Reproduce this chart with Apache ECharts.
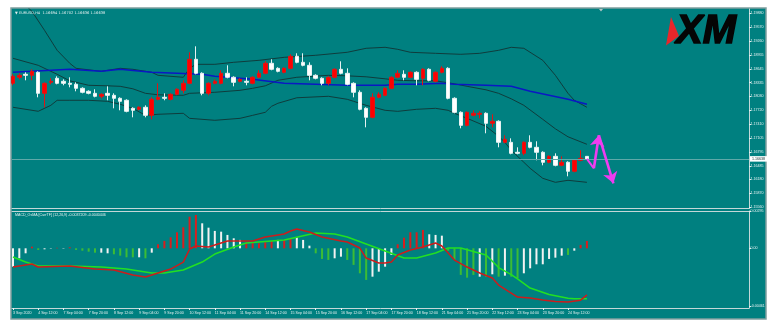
<!DOCTYPE html>
<html>
<head>
<meta charset="utf-8">
<script src="https://cdn.jsdelivr.net/npm/echarts@6/dist/echarts.min.js"></script>
<style>
html,body{margin:0;padding:0;background:#ffffff;}
#c{width:784px;height:331px;}
</style>
</head>
<body>
<div id="c"></div>
<script>
// EURUSD H4 candles, 3 Sep 20:00 .. 25 Sep 00:00 (bar index 0..91)
const open = [1.18321,1.18455,1.18522,1.18499,1.18566,1.18098,1.18343,1.18433,1.18366,1.18321,
1.18299,1.18210,1.18143,1.18098,1.18032,1.18098,1.18054,1.17987,1.17943,1.17764,
1.17742,1.17787,1.17608,1.17965,1.18009,1.17965,1.18076,1.18165,1.18321,1.18856,
1.18544,1.18098,1.18321,1.18321,1.18544,1.18455,1.18366,1.18366,1.18321,1.18455,
1.18544,1.18767,1.18655,1.18566,1.18655,1.18923,1.18789,1.18722,1.18499,1.18433,
1.18321,1.18455,1.18633,1.18544,1.18321,1.18121,1.17764,1.17564,1.18009,1.18054,
1.18210,1.18455,1.18522,1.18455,1.18566,1.18433,1.18633,1.18366,1.18566,1.18655,
1.17987,1.17675,1.17385,1.17608,1.17631,1.17653,1.17430,1.17475,1.17007,1.17007,
1.16785,1.16762,1.17007,1.16896,1.16785,1.16562,1.16695,1.16495,1.16562,1.16362,
1.16606,1.16694];
const close = [1.18477,1.18499,1.18499,1.18588,1.18098,1.18321,1.18366,1.18321,1.18321,1.18299,
1.18210,1.18121,1.18098,1.18032,1.18076,1.18054,1.17987,1.17920,1.17697,1.17720,
1.17787,1.17608,1.17965,1.18009,1.17987,1.18076,1.18188,1.18321,1.18856,1.18544,
1.18098,1.18321,1.18366,1.18544,1.18455,1.18343,1.18410,1.18343,1.18455,1.18544,
1.18767,1.18633,1.18588,1.18655,1.18923,1.18789,1.18722,1.18499,1.18433,1.18321,
1.18455,1.18633,1.18544,1.18299,1.18121,1.17742,1.17564,1.18009,1.18076,1.18210,
1.18455,1.18544,1.18455,1.18566,1.18410,1.18633,1.18388,1.18566,1.18655,1.17987,
1.17675,1.17385,1.17675,1.17653,1.17653,1.17430,1.17475,1.17007,1.17074,1.16762,
1.16762,1.17007,1.16896,1.16785,1.16562,1.16695,1.16495,1.16562,1.16362,1.16606,
1.16651,1.16638];
const low = [1.18277,1.18410,1.18388,1.18388,1.18009,1.17787,1.18299,1.18299,1.18277,1.18232,
1.18143,1.18098,1.18076,1.18009,1.17987,1.17943,1.17764,1.17720,1.17675,1.17564,
1.17720,1.17564,1.17519,1.17943,1.17943,1.17943,1.18054,1.18098,1.18299,1.18522,
1.18054,1.18054,1.18299,1.18299,1.18433,1.18254,1.18343,1.18277,1.18299,1.18433,
1.18522,1.18611,1.18566,1.18544,1.18633,1.18767,1.18700,1.18388,1.18410,1.18277,
1.18277,1.18433,1.18522,1.18277,1.18009,1.17720,1.17341,1.17541,1.17987,1.18032,
1.18188,1.18433,1.18388,1.18433,1.18277,1.18277,1.18366,1.18343,1.18544,1.17965,
1.17653,1.17319,1.17363,1.17586,1.17541,1.17208,1.17341,1.16896,1.16985,1.16740,
1.16740,1.16718,1.16874,1.16606,1.16495,1.16540,1.16473,1.16473,1.16250,1.16339,
1.16584,1.16636];
const high = [1.18522,1.18544,1.18566,1.18633,1.18588,1.18343,1.18433,1.18477,1.18410,1.18455,
1.18343,1.18232,1.18165,1.18188,1.18098,1.18254,1.18098,1.18009,1.17965,1.17787,
1.17809,1.17831,1.18009,1.18321,1.18098,1.18098,1.18210,1.18388,1.19012,1.19145,
1.18566,1.18343,1.18410,1.18611,1.18722,1.18477,1.18433,1.18455,1.18477,1.18611,
1.18811,1.18856,1.18678,1.18678,1.18967,1.18990,1.18990,1.18789,1.18522,1.18455,
1.18477,1.18655,1.18811,1.18655,1.18343,1.18165,1.17787,1.18098,1.18121,1.18232,
1.18477,1.18611,1.18611,1.18588,1.18588,1.18655,1.18655,1.18588,1.18700,1.18678,
1.18009,1.17697,1.17697,1.17720,1.17697,1.17675,1.17631,1.17497,1.17163,1.17096,
1.16896,1.17030,1.17163,1.17030,1.16807,1.16718,1.16762,1.16695,1.16584,1.16629,
1.16829,1.16702];

// Bollinger bands (upper / middle / lower) sampled at bar indices
const bandUpIdx  = [0,2,3,5,7,9,10,14,17,19,22,23,27,28,29,32,35,39,43,48,53,56,59,61,63,67,71,74,77,79,81,84,86,88,89,91];
const bandUpVal  = [1.20281,1.20058,1.19925,1.19501,1.19056,1.18767,1.18655,1.18588,1.18655,1.18633,
1.18566,1.18499,1.18455,1.18655,1.18744,1.18744,1.18789,1.18833,1.18900,1.18945,
1.19012,1.19101,1.19123,1.19078,1.19012,1.18989,1.18967,1.18989,1.19056,1.19123,
1.19101,1.18833,1.18499,1.18098,1.17943,1.17787];
const bandMidIdx = [0,4,7,9,12,15,17,19,21,23,27,28,32,36,38,40,42,45,50,53,56,59,61,64,67,70,72,75,77,79,81,84,86,88,91];
const bandMidVal = [1.18878,1.18722,1.18522,1.18377,1.18277,1.18265,1.18254,1.18199,1.18098,1.18065,
1.18054,1.18098,1.18121,1.18165,1.18210,1.18265,1.18388,1.18455,1.18499,1.18488,
1.18466,1.18421,1.18388,1.18377,1.18377,1.18310,1.18254,1.18176,1.18098,1.17976,
1.17831,1.17519,1.17308,1.17130,1.16963];
const bandLowIdx = [0,4,6,7,9,12,15,17,19,21,23,27,28,32,36,38,40,41,42,45,50,53,54,56,59,61,64,67,69,70,72,75,77,78,79,81,82,84,86,88,91];
const bandLowVal = [1.17787,1.17698,1.17831,1.17943,1.17943,1.17943,1.17920,1.17854,1.17764,1.17608,
1.17631,1.17653,1.17541,1.17497,1.17541,1.17608,1.17675,1.17809,1.17876,1.17999,
1.18032,1.17965,1.17920,1.17831,1.17720,1.17697,1.17742,1.17764,1.17720,1.17653,
1.17541,1.17363,1.17141,1.17007,1.16829,1.16562,1.16428,1.16205,1.16116,1.16161,
1.16116];

// slow moving average (blue)
const maIdx = [0,3,9,14,17,22,26,30,32,38,43,48,53,59,61,64,68,70,75,79,82,88,91];
const maVal = [1.18566,1.18588,1.18633,1.18588,1.18633,1.18566,1.18544,1.18522,1.18477,1.18410,
1.18321,1.18299,1.18277,1.18277,1.18299,1.18299,1.18321,1.18299,1.18277,1.18254,
1.18143,1.17965,1.17854];

// projected path drawn after the last bar
const pathIdx = [91, 92.1, 92.9, 95.2];
const pathPrice = [1.16638, 1.16428, 1.17163, 1.16094];

// MACD OsMA histogram, one value per bar; colour codes r / w / g
const osma = [-0.00147,-0.00080,-0.00040,0.00013,-0.00013,-0.00008,-0.00003,0.00004,-0.00003,0.00008,
-0.00013,-0.00019,-0.00027,-0.00035,-0.00035,-0.00040,-0.00048,-0.00059,-0.00072,-0.00072,
-0.00072,-0.00080,-0.00035,0.00032,0.00059,0.00088,0.00128,0.00168,0.00253,0.00267,
0.00200,0.00165,0.00139,0.00133,0.00107,0.00080,0.00067,0.00048,0.00048,0.00040,
0.00048,0.00059,0.00067,0.00067,0.00080,0.00088,0.00067,0.00021,-0.00040,-0.00085,
-0.00093,-0.00080,-0.00067,-0.00093,-0.00133,-0.00200,-0.00253,-0.00227,-0.00187,-0.00147,
-0.00053,0.00032,0.00085,0.00128,0.00128,0.00147,0.00112,0.00107,0.00101,-0.00019,
-0.00093,-0.00213,-0.00235,-0.00213,-0.00227,-0.00227,-0.00208,-0.00227,-0.00219,-0.00227,
-0.00240,-0.00200,-0.00160,-0.00128,-0.00128,-0.00085,-0.00075,-0.00059,-0.00053,-0.00019,
0.00027,0.00059];
const osmaColor = "wwwrgwwrwr" + "ggggwwgggg" + "wgwrrrrrrr" + "wwwwwwwrrr" + "rrwrrwwwgg" +
                  "gwwggggwww" + "wrrrrrwwwg" + "ggggwgwgwg" + "gwwwwwwwgw" + "rr";

// MACD main line and signal line
const macdIdx = [0,3,4,9,13,16,19,21,23,25,27,28,29,31,32,34,36,38,40,43,44,45,47,49,52,53,55,56,58,59,60,61,63,65,67,68,70,72,74,76,77,79,80,82,84,86,88,90,91];
const macdVal = [-0.00150,-0.00126,-0.00150,-0.00142,-0.00166,-0.00174,-0.00214,-0.00230,-0.00198,-0.00166,
-0.00110,-0.00006,0.00018,0.00010,0.00026,0.00058,0.00058,0.00058,0.00090,0.00114,
0.00138,0.00154,0.00130,0.00090,0.00058,0.00050,0.00002,-0.00078,-0.00118,-0.00118,
-0.00110,-0.00054,-0.00014,0.00010,0.00042,0.00018,-0.00094,-0.00150,-0.00198,-0.00238,
-0.00294,-0.00358,-0.00390,-0.00398,-0.00414,-0.00425,-0.00430,-0.00415,-0.0037209];
const signalIdx = [0,2,4,9,14,18,22,24,27,30,32,35,37,39,43,48,51,53,56,59,62,64,67,69,71,75,77,79,80,82,85,88,89,91];
const signalVal = [-0.00070,-0.00110,-0.00142,-0.00142,-0.00150,-0.00166,-0.00198,-0.00198,-0.00174,-0.00110,
-0.00046,0.00010,0.00042,0.00050,0.00066,0.00122,0.00114,0.00090,0.00034,-0.00022,
-0.00078,-0.00078,-0.00038,0.00002,0.00002,-0.00054,-0.00154,-0.00210,-0.00245,-0.00318,
-0.00370,-0.00400,-0.00404,-0.0040446];

// axis tick labels
const priceTicks = ['1.19880','1.19570','1.19260','1.18955','1.18645','1.18335','1.18030','1.17720',
                    '1.17410','1.17105','1.16795','1.16485','1.16180','1.15870','1.15560'];
const macdTicks = ['0.00295','0.00','-0.00461'];
const timeTicks = ['3 Sep 2020','4 Sep 12:00','7 Sep 04:00','7 Sep 20:00','8 Sep 12:00','9 Sep 04:00',
  '9 Sep 20:00','10 Sep 12:00','11 Sep 04:00','11 Sep 20:00','14 Sep 12:00','15 Sep 04:00',
  '15 Sep 20:00','16 Sep 12:00','17 Sep 04:00','17 Sep 20:00','18 Sep 12:00','21 Sep 04:00',
  '21 Sep 20:00','22 Sep 12:00','23 Sep 04:00','23 Sep 20:00','24 Sep 12:00'];
const BARS_PER_TICK = 4;

// ---- styling ----
const BG = '#008080';
const FG = '#e4f0f0';
const FRAME = '#c4d8d8';
const BAND = '#0f3c3c';
const FONT = 'Liberation Sans';
const TXT = 3.6;

const X_MIN = -0.1586, X_MAX = 116.70;

const pairs = (xs, ys) => xs.map((x, k) => [x, ys[k]]);
const last = open.length - 1;

const candles = open.map((o, i) => [i, o, close[i], low[i], high[i]]);
const histColors = { r: '#d81e1e', w: '#f2f2f2', g: '#3cbc34' };
const hist = osma.map((v, i) => ({ value: [i, v], itemStyle: { color: histColors[osmaColor[i]] } }));

const pathSegments = [];
for (let k = 0; k + 1 < pathIdx.length; k++) {
  pathSegments.push({
    coords: [[pathIdx[k], pathPrice[k]], [pathIdx[k + 1], pathPrice[k + 1]]],
    symbol: k === 0 ? ['none', 'none'] : ['none', 'arrow'],
    lineStyle: k === 0 ? { width: 2 } : {}
  });
}

function xAxisOf(grid, extra) {
  return Object.assign({
    type: 'value', gridIndex: grid, min: X_MIN, max: X_MAX,
    splitLine: { show: false },
    axisLabel: { show: false },
    axisTick: { show: false },
    axisLine: { show: true, onZero: false, lineStyle: { color: FRAME, width: 1 } }
  }, extra || {});
}

const tickIdx = timeTicks.map((_, k) => k * BARS_PER_TICK);
const priceVals = priceTicks.map(Number);
const macdVals = macdTicks.map(Number);

const option = {
  backgroundColor: '#ffffff',
  animation: false,
  textStyle: { fontFamily: FONT },
  grid: [
    { left: 12, right: 35, top: 9, height: 199.5 },
    { left: 12, right: 35, top: 211, height: 97 }
  ],
  xAxis: [
    xAxisOf(0),
    xAxisOf(1, {
      axisTick: { show: true, customValues: tickIdx, length: 2, lineStyle: { color: FG } },
      axisLabel: {
        show: true, customValues: tickIdx, align: 'left', margin: 2.5,
        color: FG, fontSize: TXT, fontFamily: FONT,
        formatter: v => timeTicks[Math.round(v / BARS_PER_TICK)]
      }
    }),
    xAxisOf(1, { position: 'top' })
  ],
  yAxis: [
    {
      type: 'value', gridIndex: 0, position: 'right', min: 1.15533, max: 1.19976,
      splitLine: { show: false },
      axisLine: { show: true, onZero: false, lineStyle: { color: FRAME } },
      axisTick: { show: true, length: 2, customValues: priceVals, lineStyle: { color: FG } },
      axisLabel: {
        customValues: priceVals, margin: 1.5, color: FG, fontSize: TXT, fontFamily: FONT,
        formatter: v => priceTicks[priceVals.indexOf(v)] || v.toFixed(5)
      }
    },
    {
      type: 'value', gridIndex: 1, position: 'right', min: -0.004776, max: 0.002984,
      splitLine: { show: false },
      axisLine: { show: true, onZero: false, lineStyle: { color: FRAME } },
      axisTick: { show: true, length: 2, customValues: macdVals, lineStyle: { color: FG } },
      axisLabel: {
        customValues: macdVals, margin: 1.5, color: FG, fontSize: TXT, fontFamily: FONT,
        formatter: v => macdTicks[macdVals.indexOf(v)]
      }
    }
  ],
  series: [
    {
      name: 'band upper', type: 'line', xAxisIndex: 0, yAxisIndex: 0,
      data: pairs(bandUpIdx, bandUpVal), showSymbol: false, clip: true,
      lineStyle: { color: BAND, width: 1 }, z: 2
    },
    {
      name: 'band middle', type: 'line', xAxisIndex: 0, yAxisIndex: 0,
      data: pairs(bandMidIdx, bandMidVal), showSymbol: false, clip: true,
      lineStyle: { color: BAND, width: 1 }, z: 2
    },
    {
      name: 'band lower', type: 'line', xAxisIndex: 0, yAxisIndex: 0,
      data: pairs(bandLowIdx, bandLowVal), showSymbol: false, clip: true,
      lineStyle: { color: BAND, width: 1 }, z: 2
    },
    {
      name: 'MA', type: 'line', xAxisIndex: 0, yAxisIndex: 0,
      data: pairs(maIdx, maVal), showSymbol: false, clip: true,
      lineStyle: { color: '#0a18c4', width: 1.5 }, z: 3
    },
    {
      name: 'EURUSD', type: 'candlestick', xAxisIndex: 0, yAxisIndex: 0,
      data: candles, encode: { x: 0, y: [1, 2, 3, 4] },
      barWidth: 4, z: 4,
      itemStyle: {
        color: '#ff0000', color0: '#ffffff',
        borderColor: '#e01414', borderColor0: '#e6f2f2', borderWidth: 1
      },
      markLine: {
        silent: true, symbol: 'none', animation: false, precision: 5,
        data: [{ yAxis: close[last] }],
        lineStyle: { color: '#5fa9a9', width: 1, type: 'solid' },
        label: {
          position: 'end', distance: 1, formatter: () => close[last].toFixed(5),
          backgroundColor: '#ffffff', color: '#0a2a2a', fontSize: TXT, fontFamily: FONT,
          padding: [1, 2, 0.5, 2]
        }
      }
    },
    {
      name: 'path', type: 'lines', coordinateSystem: 'cartesian2d',
      xAxisIndex: 0, yAxisIndex: 0, polyline: false,
      symbol: ['none', 'arrow'], symbolSize: [8, 11],
      lineStyle: { color: '#f03cf0', width: 2.6, opacity: 1, curveness: 0 },
      data: pathSegments, z: 6
    },
    {
      name: 'OsMA', type: 'bar', xAxisIndex: 1, yAxisIndex: 1,
      data: hist, barWidth: 2, z: 2
    },
    {
      name: 'MACD', type: 'line', xAxisIndex: 1, yAxisIndex: 1,
      data: pairs(macdIdx, macdVal), showSymbol: false,
      lineStyle: { color: '#cc1c1c', width: 1.5 }, z: 4
    },
    {
      name: 'Signal', type: 'line', xAxisIndex: 1, yAxisIndex: 1,
      data: pairs(signalIdx, signalVal), showSymbol: false,
      lineStyle: { color: '#22e022', width: 1.5 }, z: 3
    }
  ],
  graphic: { elements: [
    {
      type: 'rect', z: -100, silent: true,
      shape: { x: 11, y: 8, width: 755, height: 311 },
      style: { fill: BG, stroke: '#7f9f9f', lineWidth: 1.5 }
    },
    {
      type: 'text', z: 10, silent: true,
      style: {
        text: '\u25BC EURUSD,H4  ' + [open[last], high[last], low[last], close[last]].map(v => v.toFixed(5)).join(' '),
        x: 15, y: 13, fill: FG, fontSize: TXT, fontFamily: 'DejaVu Sans', verticalAlign: 'middle'
      }
    },
    {
      type: 'text', z: 10, silent: true,
      style: {
        text: 'MACD_OsMA [CurrTF] (12,26,9) ' + macdVal[macdVal.length - 1].toFixed(7) + ' ' + signalVal[signalVal.length - 1].toFixed(7),
        x: 15, y: 214.5, fill: FG, fontSize: TXT, fontFamily: FONT, verticalAlign: 'middle'
      }
    },
    {
      type: 'polygon', z: 10, silent: true,
      shape: { points: [[599, 9], [603, 9], [601, 11.5]] },
      style: { fill: '#b8c8c8' }
    },
    {
      type: 'polygon', z: 10, silent: true,
      shape: { points: [[671, 17], [679, 36], [666, 45.5]] },
      style: { fill: '#e8262a' }
    },
    {
      type: 'text', z: 10, silent: true,
      style: {
        text: 'XM', x: 676, y: 31.5, fill: '#050505', stroke: '#050505', lineWidth: 1.5,
        fontSize: 40, fontWeight: 'bold', fontStyle: 'italic', fontFamily: FONT,
        verticalAlign: 'middle'
      }
    }
  ] }
};

const chart = echarts.init(document.getElementById('c'));
chart.setOption(option);
</script>
</body>
</html>
